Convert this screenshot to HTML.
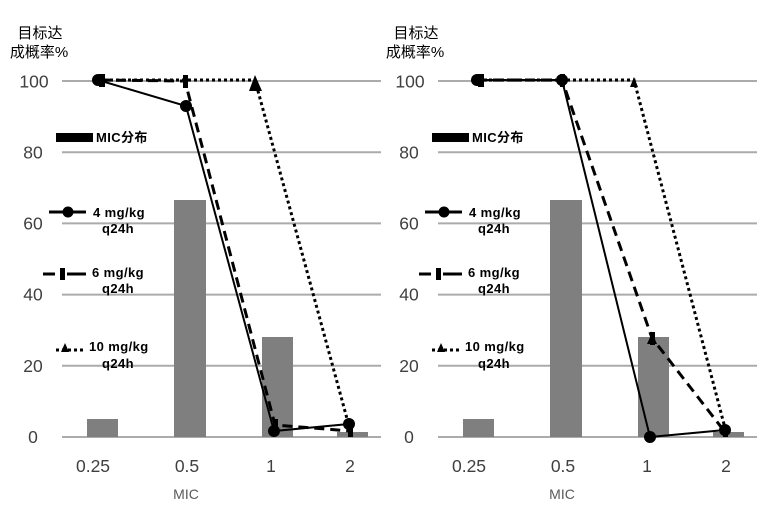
<!DOCTYPE html>
<html><head><meta charset="utf-8"><style>
html,body{margin:0;padding:0;background:#fff;}
svg{display:block;}
.yt{font-family:"Liberation Sans",sans-serif;font-size:17.5px;fill:#404040;text-anchor:middle;}
.xt{font-family:"Liberation Sans",sans-serif;font-size:17.5px;fill:#404040;text-anchor:middle;}
.xa{font-family:"Liberation Sans",sans-serif;font-size:14px;fill:#595959;text-anchor:middle;}
.ti{font-family:"Liberation Sans","Noto Sans CJK SC",sans-serif;font-size:15px;fill:#000;text-anchor:middle;}
.lg{font-family:"Liberation Sans","Noto Sans CJK SC",sans-serif;font-size:13px;font-weight:bold;fill:#000;letter-spacing:0.4px;}
</style></head><body>
<svg width="772" height="511" viewBox="0 0 772 511" xmlns="http://www.w3.org/2000/svg">
<defs>
<g id="frame">
  <g stroke="#ababab" stroke-width="2">
    <line x1="62" y1="81" x2="381" y2="81"/>
    <line x1="62" y1="152.2" x2="381" y2="152.2"/>
    <line x1="62" y1="223.4" x2="381" y2="223.4"/>
    <line x1="62" y1="294.6" x2="381" y2="294.6"/>
    <line x1="62" y1="365.8" x2="381" y2="365.8"/>
    <line x1="62" y1="437" x2="381" y2="437"/>
  </g>
  <text class="yt" x="34" y="87.5">100</text>
  <text class="yt" x="33" y="158.5">80</text>
  <text class="yt" x="33" y="229.5">60</text>
  <text class="yt" x="33" y="300.5">40</text>
  <text class="yt" x="33" y="372">20</text>
  <text class="yt" x="33" y="443">0</text>
  <text class="ti" x="40" y="38">目标达</text>
  <text class="ti" x="39" y="57">成概率%</text>
  <g fill="#7f7f7f">
    <rect x="87" y="419" width="31" height="18"/>
    <rect x="174" y="200" width="32" height="237"/>
    <rect x="262" y="337" width="31" height="100"/>
    <rect x="337" y="432" width="31" height="5"/>
  </g>
  <text class="xt" x="93" y="472">0.25</text>
  <text class="xt" x="187" y="472">0.5</text>
  <text class="xt" x="271" y="472">1</text>
  <text class="xt" x="350" y="472">2</text>
  <text class="xa" x="186" y="499">MIC</text>
  <!-- legend -->
  <rect x="56" y="133" width="37" height="9" fill="#000"/>
  <text class="lg" x="96" y="142">MIC分布</text>
  <line x1="49" y1="212" x2="86" y2="212" stroke="#000" stroke-width="3"/>
  <circle cx="68" cy="212" r="5.5" fill="#000"/>
  <text class="lg" x="93" y="217">4 mg/kg</text>
  <text class="lg" x="102" y="233">q24h</text>
  <line x1="43" y1="274" x2="55" y2="274" stroke="#000" stroke-width="3"/>
  <line x1="67" y1="274" x2="86" y2="274" stroke="#000" stroke-width="3"/>
  <rect x="60" y="268" width="5" height="12" fill="#000"/>
  <text class="lg" x="92" y="277">6 mg/kg</text>
  <text class="lg" x="102" y="293">q24h</text>
  <line x1="56" y1="350" x2="84" y2="350" stroke="#000" stroke-width="3" stroke-dasharray="3 3"/>
  <polygon points="65,343 61,352 69,352" fill="#000"/>
  <text class="lg" x="89" y="351">10 mg/kg</text>
  <text class="lg" x="102" y="368">q24h</text>
</g>
</defs>

<use href="#frame"/>
<use href="#frame" x="376"/>

<!-- LEFT series -->
<polyline points="98,80 185,80 255,80 349,426" fill="none" stroke="#000" stroke-width="3" stroke-dasharray="3 3"/>
<polyline points="100,80 185,81 275,425 350,431" fill="none" stroke="#000" stroke-width="3" stroke-dasharray="10 6"/>
<polyline points="98,80 186,106 274,431 349,424" fill="none" stroke="#000" stroke-width="2"/>
<polygon points="255,75 249,91 262,91" fill="#000"/>
<rect x="99" y="74" width="6" height="13" fill="#000"/>
<rect x="183" y="75" width="5" height="13" fill="#000"/>
<rect x="273" y="419" width="5" height="12" fill="#000"/>
<rect x="348" y="425" width="5" height="12" fill="#000"/>
<circle cx="98" cy="80" r="6" fill="#000"/>
<circle cx="186" cy="106" r="6" fill="#000"/>
<circle cx="274" cy="431" r="6" fill="#000"/>
<circle cx="349" cy="424" r="6" fill="#000"/>

<!-- RIGHT series -->
<polyline points="477,80 562,80 634,80 725,428" fill="none" stroke="#000" stroke-width="3" stroke-dasharray="3 3"/>
<polyline points="477,80 562,80 652,338 725,432" fill="none" stroke="#000" stroke-width="3" stroke-dasharray="10 6"/>
<polyline points="477,80 562,80 650,437 725,430" fill="none" stroke="#000" stroke-width="2"/>
<polygon points="634,77 630,87 638,87" fill="#000"/>
<rect x="478" y="74" width="6" height="13" fill="#000"/>
<rect x="560" y="74" width="5" height="13" fill="#000"/>
<rect x="650" y="332" width="5" height="13" fill="#000"/>
<polygon points="652,333 647,344 657,344" fill="#000"/>
<rect x="723" y="425" width="5" height="12" fill="#000"/>
<circle cx="477" cy="80" r="6" fill="#000"/>
<circle cx="562" cy="80" r="6" fill="#000"/>
<circle cx="650" cy="437" r="6" fill="#000"/>
<circle cx="725" cy="430" r="6" fill="#000"/>
</svg>
</body></html>
